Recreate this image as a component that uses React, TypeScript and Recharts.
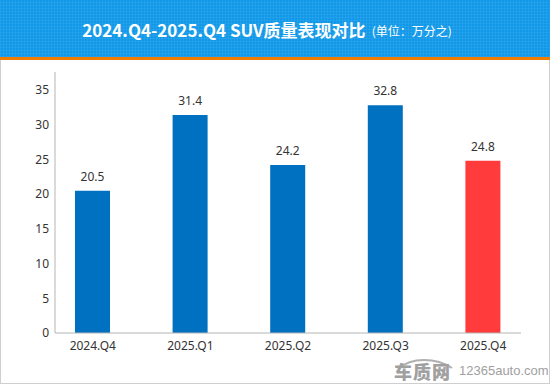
import React from 'react';
import { BarChart, Bar, XAxis, YAxis, Cell, LabelList } from 'recharts';

const quarters = ['2024.Q4', '2025.Q1', '2025.Q2', '2025.Q3', '2025.Q4'];
const rates = [20.5, 31.4, 24.2, 32.8, 24.8];
const yTicks = [0, 5, 10, 15, 20, 25, 30, 35];

const BLUE = '#0070c0';
const RED = '#ff3b3b';

const data = quarters.map((q, i) => ({ name: q, value: rates[i] }));

const font = '"Noto Sans", "Noto Sans CJK SC", sans-serif';

export default function App() {
  return (
    <div
      style={{
        position: 'absolute',
        left: 0,
        top: 0,
        width: 550,
        height: 386,
        background: '#fff',
        fontFamily: font,
        overflow: 'hidden',
      }}
    >
      {/* header band */}
      <div
        style={{
          position: 'absolute',
          left: 0,
          top: 0,
          width: 550,
          height: 57,
          backgroundColor: '#1198e8',
          backgroundImage:
            'repeating-linear-gradient(0deg, rgba(255,255,255,0.06) 0 1px, transparent 1px 3px), repeating-linear-gradient(90deg, rgba(255,255,255,0.06) 0 1px, transparent 1px 3px)',
          display: 'flex',
          alignItems: 'center',
          justifyContent: 'center',
          color: '#fff',
          paddingRight: 16,
          boxSizing: 'border-box',
        }}
      >
        <span style={{ fontFamily: '"Noto Sans CJK SC", sans-serif', fontWeight: 700, fontSize: 17, marginTop: 2 }}>
          2024.Q4-2025.Q4 SUV质量表现对比
        </span>
        <span style={{ fontFamily: '"Noto Sans CJK SC", sans-serif', fontSize: 12, marginLeft: 6, marginTop: 4 }}>
          (单位：万分之)
        </span>
      </div>
      <div style={{ position: 'absolute', left: 0, top: 57, width: 550, height: 3, background: '#f07c00' }} />
      {/* frame */}
      <div
        style={{
          position: 'absolute',
          left: 0,
          top: 60,
          width: 548,
          height: 323,
          borderLeft: '1px solid #cfcfcf',
          borderRight: '1px solid #cfcfcf',
          borderBottom: '1px solid #cfcfcf',
        }}
      />

      <div style={{ position: 'absolute', left: 0, top: 0 }}>
        <BarChart
          width={550}
          height={386}
          data={data}
          margin={{ top: 72, right: 29, left: 0, bottom: 23 }}
        >
          <XAxis
            dataKey="name"
            height={30}
            padding={{ left: -11, right: -11 }}
            axisLine={{ stroke: '#b5b5b5' }}
            tickLine={false}
            tickSize={0}
            tickMargin={8}
            tick={{ fontSize: 12, fill: '#333', fontFamily: font }}
            interval={0}
          />
          <YAxis
            width={55}
            domain={[0, 37.6]}
            ticks={yTicks}
            axisLine={{ stroke: '#b5b5b5' }}
            tickLine={false}
            tickSize={0}
            tickMargin={6}
            tick={{ fontSize: 12, fill: '#333', fontFamily: font }}
          />
          <Bar dataKey="value" barSize={35} isAnimationActive={false}>
            {data.map((d, i) => (
              <Cell key={d.name} fill={i === data.length - 1 ? RED : BLUE} />
            ))}
            <LabelList
              dataKey="value"
              position="top"
              offset={10}
              style={{ fontSize: 12, fill: '#333', fontFamily: font }}
            />
          </Bar>
        </BarChart>
      </div>

      {/* watermark */}
      <div style={{ position: 'absolute', left: 394, top: 357, display: 'flex', alignItems: 'flex-end', color: '#a0a0a0' }}>
        <div style={{ position: 'relative', width: 64, height: 23 }}>
          <svg width={64} height={23} style={{ position: 'absolute', left: 0, top: 0 }}>
            <path d="M4 12 Q 14 3 30 3 Q 46 3 58 11" fill="none" stroke="#b0b0b0" strokeWidth={2} />
          </svg>
          <span
            style={{
              position: 'absolute',
              left: 0,
              top: 5,
              fontFamily: '"Noto Sans CJK SC", sans-serif',
              fontWeight: 900,
              fontSize: 18,
              lineHeight: '18px',
              letterSpacing: 1,
            }}
          >
            车质网
          </span>
        </div>
        <span style={{ fontSize: 13, lineHeight: '16px', marginLeft: 1, marginBottom: 1, fontFamily: '"Liberation Sans", Arial, sans-serif' }}>
          12365auto.com
        </span>
      </div>
    </div>
  );
}
